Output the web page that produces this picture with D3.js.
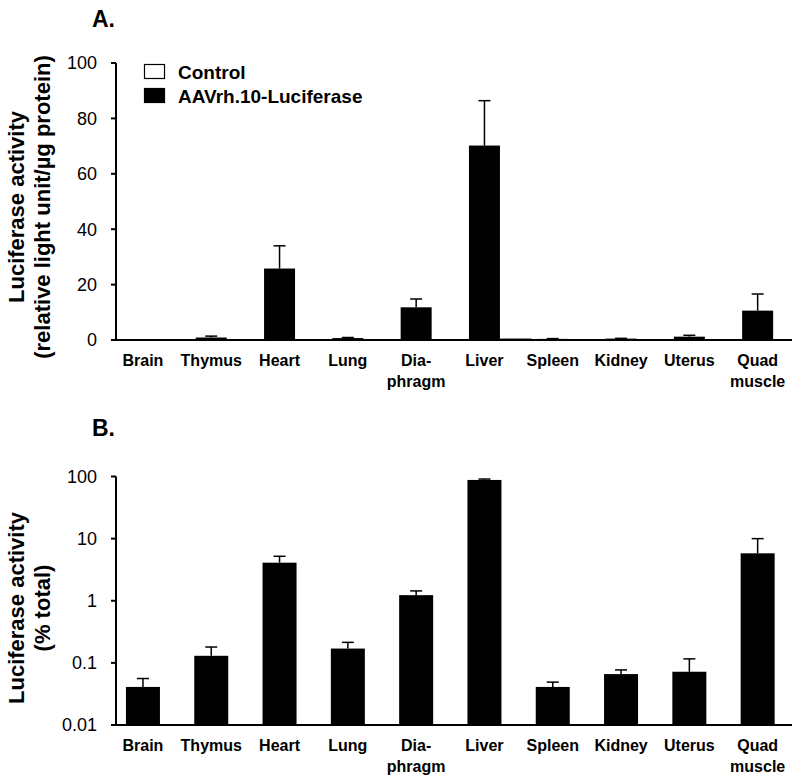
<!DOCTYPE html>
<html>
<head>
<meta charset="utf-8">
<script src="https://cdn.jsdelivr.net/npm/d3@7"></script>
<style>
  html, body { margin: 0; padding: 0; background: #fff; }
  text { font-family: "Liberation Sans", Arial, Helvetica, sans-serif; }
</style>
</head>
<body>
<svg id="chart" width="800" height="782"></svg>
<script>
// ---- data ----
const categories = [["Brain"], ["Thymus"], ["Heart"], ["Lung"], ["Dia-", "phragm"], ["Liver"], ["Spleen"], ["Kidney"], ["Uterus"], ["Quad", "muscle"]];
const catKeys = categories.map(c => c.join(" "));

// Panel A: relative light unit / µg protein
const aavA    = [0.05, 0.9, 25.8, 0.7, 11.8, 70.2, 0.4, 0.5, 1.2, 10.6];
const aavAErr = [0,    0.5, 8.2,  0.2, 3.0,  16.2, 0.1, 0.1, 0.5, 6.0];
const controlA = [0, 0, 0, 0, 0, 0.3, 0, 0, 0, 0];

// Panel B: % total (log scale)
const aavB    = [0.041, 0.13, 4.1, 0.17, 1.23, 88, 0.041, 0.066, 0.072, 5.8];
const aavBErr = [0.015, 0.05, 1.1, 0.044, 0.21, 3, 0.008, 0.011, 0.044, 4.2];

const ticksA = [0, 20, 40, 60, 80, 100];
const ticksB = [0.01, 0.1, 1, 10, 100];
const tickLabelsB = ["0.01", "0.1", "1", "10", "100"];

const legendItems = [{label: "Control", fill: "#fff"}, {label: "AAVrh.10-Luciferase", fill: "#000"}];

// ---- layout ----
const svg = d3.select("#chart");
const axisX = 116;
const xLineStart = 112, xLineEnd = 792;

const x = d3.scaleBand().domain(catKeys).range([108.8, 791.8]).padding(0);
const center = k => x(k) + x.bandwidth() / 2;

const yA = d3.scaleLinear().domain([0, 100]).range([340, 63]);
const yB = d3.scaleLog().domain([0.01, 100]).range([725, 476.5]);

function drawPanel(opts) {
  const g = svg.append("g");
  const y = opts.y;
  const base = y.range()[0];
  const top = y.range()[1];

  // y axis line + ticks
  g.append("line").attr("x1", axisX).attr("x2", axisX).attr("y1", top).attr("y2", base)
    .attr("stroke", "#000").attr("stroke-width", 2);
  opts.ticks.forEach((t, i) => {
    g.append("line").attr("x1", axisX - 5).attr("x2", axisX).attr("y1", y(t)).attr("y2", y(t))
      .attr("stroke", "#000").attr("stroke-width", 2);
    g.append("text").attr("x", 97).attr("y", y(t)).attr("dy", "0.36em")
      .attr("text-anchor", "end").attr("font-size", 18).text(opts.tickLabels[i]);
  });

  // bars
  const bw = opts.barWidth;
  opts.values.forEach((v, i) => {
    const k = catKeys[i];
    const cx = center(k);
    const yt = y(v);
    g.append("rect").attr("x", cx - bw / 2).attr("y", yt).attr("width", bw).attr("height", Math.max(0, base - yt))
      .attr("fill", "#000");
    const e = opts.errs[i];
    if (e > 0) {
      const ye = y(v + e);
      g.append("line").attr("x1", cx).attr("x2", cx).attr("y1", yt).attr("y2", ye)
        .attr("stroke", "#000").attr("stroke-width", 1.5);
      g.append("line").attr("x1", cx - 6).attr("x2", cx + 6).attr("y1", ye).attr("y2", ye)
        .attr("stroke", "#000").attr("stroke-width", 1.5);
    }
  });
  if (opts.control) {
    opts.control.forEach((v, i) => {
      if (v <= 0) return;
      const cx = center(catKeys[i]) + bw;
      const yt = y(v);
      g.append("rect").attr("x", cx - bw / 2 + 1).attr("y", yt).attr("width", bw - 1).attr("height", base - yt)
        .attr("fill", "#fff").attr("stroke", "#000").attr("stroke-width", 1.2);
    });
  }

  // x axis line
  g.append("line").attr("x1", xLineStart).attr("x2", xLineEnd).attr("y1", base).attr("y2", base)
    .attr("stroke", "#000").attr("stroke-width", 2);

  // category labels
  categories.forEach((lines, i) => {
    const t = g.append("text").attr("text-anchor", "middle").attr("font-size", 16).attr("font-weight", "bold");
    lines.forEach((ln, j) => {
      t.append("tspan").attr("x", center(catKeys[i])).attr("y", base + 26 + j * 20.5).text(ln);
    });
  });

  // panel letter
  g.append("text").attr("x", 92).attr("y", opts.letterY).attr("font-size", 23).attr("font-weight", "bold").text(opts.letter);

  // y title
  const cy = opts.titleCenter;
  opts.title.forEach((ln, j) => {
    g.append("text").attr("transform", `translate(${opts.titleX[j]},${cy}) rotate(-90)`)
      .attr("text-anchor", "middle").attr("font-size", 22).attr("font-weight", "bold").text(ln);
  });
}

drawPanel({
  y: yA, ticks: ticksA, tickLabels: ticksA.map(String), values: aavA, errs: aavAErr, control: controlA,
  barWidth: 31, letter: "A.", letterY: 27,
  title: ["Luciferase activity", "(relative light unit/µg protein)"], titleX: [24, 50], titleCenter: 207
});

drawPanel({
  y: yB, ticks: ticksB, tickLabels: tickLabelsB, values: aavB, errs: aavBErr, control: null,
  barWidth: 34, letter: "B.", letterY: 436,
  title: ["Luciferase activity", "(% total)"], titleX: [24, 50], titleCenter: 608
});

// legend
legendItems.forEach((d, i) => {
  const yy = 64 + i * 24;
  svg.append("rect").attr("x", 144.5).attr("y", yy + 0.5).attr("width", 20).attr("height", 14)
    .attr("fill", d.fill).attr("stroke", "#000").attr("stroke-width", 1.2);
  svg.append("text").attr("x", 178).attr("y", yy + 15).attr("font-size", 19).attr("font-weight", "bold").text(d.label);
});
</script>
</body>
</html>
